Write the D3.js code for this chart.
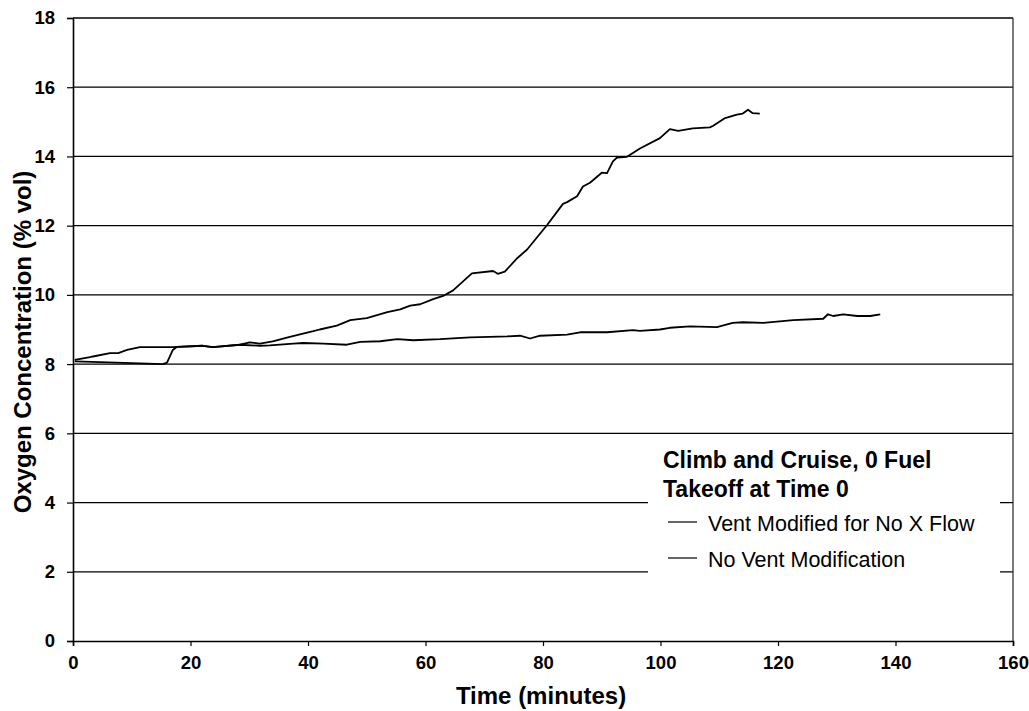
<!DOCTYPE html>
<html>
<head>
<meta charset="utf-8">
<script src="https://cdn.jsdelivr.net/npm/d3@7"></script>
<style>
  html, body { margin: 0; padding: 0; background: #fff; }
  svg { display: block; font-family: "Liberation Sans", Arial, sans-serif; }
</style>
</head>
<body>
<svg id="chart" width="1029" height="711"></svg>
<script>
// Oxygen concentration in the tank ullage during climb and cruise (0 fuel)
const xTicks = [0, 20, 40, 60, 80, 100, 120, 140, 160];
const yTicks = [0, 2, 4, 6, 8, 10, 12, 14, 16, 18];

const seriesNames = ["Vent Modified for No X Flow", "No Vent Modification"];

// No vent modification: time (min) and O2 (% vol)
const noModTime = [0.3, 2.9, 3.4, 6.3, 7.7, 9.2, 11.4, 17.0, 22.1, 23.8, 28.4, 30.1, 31.8, 34.0,
  36.9, 40.9, 42.0, 44.9, 47.2, 50.0, 53.5, 55.7, 57.4, 59.1, 61.3, 63.0, 64.7, 67.9, 71.5,
  72.3, 73.5, 75.6, 77.3, 80.7, 83.4, 84.1, 85.8, 86.8, 88.0, 90.0, 90.9, 91.9, 92.6, 94.3,
  96.5, 99.9, 101.6, 103.0, 105.5, 108.4, 108.9, 111.0, 113.0, 114.0, 114.9, 115.7, 116.9];
const noModO2 = [8.12, 8.20, 8.22, 8.32, 8.32, 8.41, 8.49, 8.49, 8.53, 8.49, 8.56, 8.63, 8.59, 8.66,
  8.79, 8.95, 9.00, 9.11, 9.27, 9.33, 9.50, 9.58, 9.69, 9.73, 9.88, 9.97, 10.13, 10.62, 10.69,
  10.61, 10.67, 11.06, 11.31, 12.02, 12.63, 12.68, 12.85, 13.13, 13.24, 13.53, 13.52, 13.86, 13.97, 13.99,
  14.23, 14.53, 14.79, 14.74, 14.81, 14.84, 14.88, 15.11, 15.21, 15.24, 15.35, 15.25, 15.24];

// Vent modified for no cross flow: time (min) and O2 (% vol)
const ventModTime = [0.3, 4.6, 11.4, 15.3, 16.0, 17.0, 17.7, 22.1, 23.8, 28.4, 31.8, 33.5, 37.5,
  39.2, 42.6, 46.6, 48.9, 52.3, 55.2, 57.9, 62.5, 65.4, 67.6, 69.3, 73.9, 76.1, 77.8, 79.5,
  84.1, 86.3, 90.9, 95.3, 96.5, 99.9, 101.6, 105.0, 109.6, 112.3, 114.0, 117.5, 122.6, 127.7,
  128.5, 129.4, 131.1, 133.5, 135.7, 137.4];
const ventModO2 = [8.08, 8.06, 8.02, 8.00, 8.04, 8.41, 8.50, 8.53, 8.49, 8.56, 8.53, 8.54, 8.59,
  8.61, 8.59, 8.56, 8.64, 8.66, 8.72, 8.69, 8.72, 8.75, 8.77, 8.78, 8.80, 8.82, 8.74, 8.82,
  8.85, 8.92, 8.92, 8.98, 8.96, 9.00, 9.05, 9.09, 9.07, 9.19, 9.21, 9.19, 9.27, 9.31,
  9.44, 9.39, 9.44, 9.39, 9.39, 9.44];

const svg = d3.select("#chart");
const plotLeft = 73, plotRight = 1013, plotTop = 18, plotBottom = 641;

const x = d3.scaleLinear().domain([0, 160]).range([plotLeft, plotRight]);
const y = d3.scaleLinear().domain([0, 18]).range([plotBottom, plotTop]);

// horizontal gridlines
svg.append("g")
  .selectAll("line")
  .data(yTicks.filter(d => d > 0))
  .join("line")
  .attr("x1", plotLeft).attr("x2", plotRight)
  .attr("y1", d => y(d)).attr("y2", d => y(d))
  .attr("stroke", "#000").attr("stroke-width", 1.3);

// right border of the plot area
svg.append("line")
  .attr("x1", plotRight).attr("x2", plotRight).attr("y1", plotTop).attr("y2", plotBottom)
  .attr("stroke", "#222").attr("stroke-width", 1.2);

// axes
const xAxis = d3.axisBottom(x).tickValues(xTicks).tickSize(5).tickFormat(d3.format("d"));
const yAxis = d3.axisLeft(y).tickValues(yTicks).tickSize(6).tickFormat(d3.format("d"));

const gx = svg.append("g").attr("transform", `translate(0,${plotBottom})`).call(xAxis);
const gy = svg.append("g").attr("transform", `translate(${plotLeft},0)`).call(yAxis);

[gx, gy].forEach(g => {
  g.select(".domain").attr("stroke", "#000").attr("stroke-width", 1.6);
  g.selectAll(".tick line").attr("stroke", "#000").attr("stroke-width", 1.2);
  g.selectAll(".tick text")
    .attr("fill", "#000")
    .style("font-size", "18.5px")
    .style("font-weight", "bold")
    .style("font-family", "'Liberation Sans', Arial, sans-serif");
});
gx.selectAll(".tick text").attr("dy", "1.1em");
gy.selectAll(".tick text").attr("x", -18);

// data lines
const line = d3.line().x(d => x(d[0])).y(d => y(d[1]));
const series = [
  d3.zip(ventModTime, ventModO2),
  d3.zip(noModTime, noModO2)
];
svg.append("g")
  .selectAll("path")
  .data(series)
  .join("path")
  .attr("d", line)
  .attr("fill", "none")
  .attr("stroke", "#000")
  .attr("stroke-width", 1.8)
  .attr("stroke-linejoin", "round");

// axis titles
svg.append("text")
  .attr("x", 541).attr("y", 704)
  .attr("text-anchor", "middle")
  .style("font-size", "24px").style("font-weight", "bold")
  .text("Time (minutes)");

svg.append("text")
  .attr("transform", "translate(31,342) rotate(-90)")
  .attr("text-anchor", "middle")
  .style("font-size", "24px").style("font-weight", "bold")
  .text("Oxygen Concentration (% vol)");

// legend
const lg = svg.append("g");
lg.append("rect")
  .attr("x", 648).attr("y", 443).attr("width", 352).attr("height", 170)
  .attr("fill", "#fff");
lg.append("text").attr("x", 663).attr("y", 468)
  .style("font-size", "23px").style("font-weight", "bold")
  .text("Climb and Cruise, 0 Fuel");
lg.append("text").attr("x", 663).attr("y", 497)
  .style("font-size", "23px").style("font-weight", "bold")
  .text("Takeoff at Time 0");

const entries = lg.selectAll("g.entry")
  .data(seriesNames)
  .join("g")
  .attr("class", "entry")
  .attr("transform", (d, i) => `translate(0,${531 + i * 36})`);
entries.append("line")
  .attr("x1", 668).attr("x2", 697).attr("y1", -9).attr("y2", -9)
  .attr("stroke", "#000").attr("stroke-width", 1.2);
entries.append("text")
  .attr("x", 708).attr("y", 0)
  .style("font-size", "21.5px")
  .text(d => d);
</script>
</body>
</html>
